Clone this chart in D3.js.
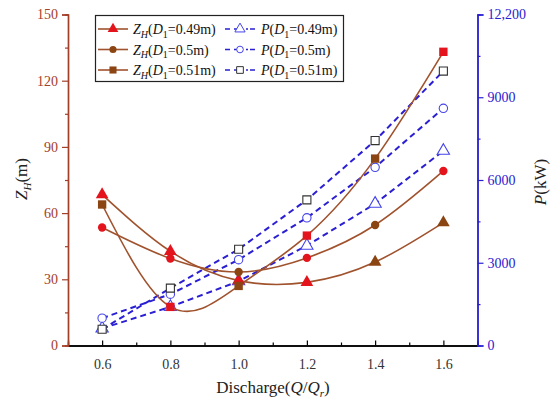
<!DOCTYPE html>
<html>
<head>
<meta charset="utf-8">
<script src="https://d3js.org/d3.v7.min.js"></script>
<style>
  body { margin: 0; background: #fff; }
  svg text { font-family: "Liberation Serif", "DejaVu Serif", "Times New Roman", serif !important; }
</style>
</head>
<body>
<div id="chart"></div>
<script>
// data
const discharge = [0.6, 0.8, 1.0, 1.2, 1.4, 1.6];
const zh049 = [68.4, 42.7, 29.4, 28.6, 37.8, 55.7];
const zh050 = [53.5, 39.4, 33.3, 39.7, 54.6, 79.1];
const zh051 = [63.9, 17.5, 27.0, 49.8, 84.7, 133.1];
const p049 = [620, 1400, 2330, 3620, 5140, 7060];
const p050 = [990, 1860, 3110, 4630, 6460, 8600];
const p051 = [590, 2080, 3490, 5280, 7430, 9950];
const diameters = ["0.49", "0.5", "0.51"];
const xTicks = [0.6, 0.8, 1.0, 1.2, 1.4, 1.6];
const leftTicks = [0, 30, 60, 90, 120, 150];
const rightTicks = [0, 3000, 6000, 9000, 12000];
const rightTickLabels = ["0", "3000", "6000", "9000", "12,200"];

// styles
const RED = "#e3141c", BROWN = "#8b4513";
const lineBrown = "#a0522d";
const blue = "#2a1fd2";
const leftColor = "#a3402a";
const rightColor = "#2a20d0";
const zMarkerColors = [
    [RED, RED, RED, RED, BROWN, BROWN],
    [RED, RED, BROWN, RED, BROWN, RED],
    [BROWN, RED, BROWN, RED, BROWN, RED]
];
const shapes = ["triangle", "circle", "square"];

const W = 550, H = 398;
const svg = d3.select("#chart").append("svg").attr("width", W).attr("height", H);

const x = d3.scaleLinear().domain([0.5, 1.7]).range([68, 477.5]);
const yL = d3.scaleLinear().domain([0, 150]).range([345.5, 14.5]);
const yR = d3.scaleLinear().domain([0, 12000]).range([345.5, 14.5]);

function symbolPath(shape, size) {
    const t = shape === "triangle" ? d3.symbolTriangle : shape === "circle" ? d3.symbolCircle : d3.symbolSquare;
    return d3.symbol().type(t).size(size)();
}

// X axis (ticks inward)
const xAxis = svg.append("g").attr("transform", `translate(0,${yL(0)})`);
xAxis.call(d3.axisBottom(x).tickValues(xTicks).tickSize(-5).tickPadding(14).tickFormat(d3.format(".1f")));
xAxis.append("g").call(d3.axisBottom(x).tickValues([0.7, 0.9, 1.1, 1.3, 1.5]).tickSize(-3).tickFormat(""));
xAxis.selectAll("path").attr("stroke", "#000").attr("stroke-width", 1.3);
xAxis.selectAll("line").attr("stroke", "#000").attr("stroke-width", 1.2);
xAxis.selectAll("text").attr("fill", "#333").attr("font-size", 14);

// left axis
const lAxis = svg.append("g").attr("transform", `translate(${x(0.5)},0)`);
lAxis.call(d3.axisLeft(yL).tickValues(leftTicks).tickSize(6).tickPadding(4));
lAxis.append("g").call(d3.axisLeft(yL).tickValues([15, 45, 75, 105, 135]).tickSize(3).tickFormat(""));
lAxis.selectAll("path").attr("stroke", leftColor).attr("stroke-width", 1.4);
lAxis.selectAll("line").attr("stroke", leftColor).attr("stroke-width", 1.2);
lAxis.selectAll("text").attr("fill", leftColor).attr("font-size", 14);

// right axis
const rAxis = svg.append("g").attr("transform", `translate(${x(1.7)},0)`);
rAxis.call(d3.axisRight(yR).tickValues(rightTicks).tickSize(6).tickPadding(4)
    .tickFormat((d, i) => rightTickLabels[i]));
rAxis.append("g").call(d3.axisRight(yR).tickValues([1500, 4500, 7500, 10500]).tickSize(3).tickFormat(""));
rAxis.selectAll("path").attr("stroke", rightColor).attr("stroke-width", 1.4);
rAxis.selectAll("line").attr("stroke", rightColor).attr("stroke-width", 1.2);
rAxis.selectAll("text").attr("fill", rightColor).attr("font-size", 14);
svg.selectAll(".domain").attr("fill", "none");

// rich text helper: parts = [[text, italic, sub]]
function richText(sel, parts, subSize) {
    let shifted = false;
    parts.forEach(([t, it, sub]) => {
        const ts = sel.append("tspan").text(t);
        if (it) ts.attr("font-style", "italic");
        if (sub && !shifted) { ts.attr("dy", 3.5).attr("font-size", subSize); shifted = true; }
        else if (sub) { ts.attr("font-size", subSize); }
        else if (shifted) { ts.attr("dy", -3.5); shifted = false; }
    });
}

// axis titles
richText(svg.append("text").attr("x", 273).attr("y", 393).attr("text-anchor", "middle")
    .attr("font-size", 17).attr("fill", "#222"),
    [["Discharge(", false, false], ["Q", true, false], ["/", false, false], ["Q", true, false], ["r", true, true], [")", false, false]], 11);

richText(svg.append("text").attr("transform", "translate(27,179) rotate(-90)").attr("text-anchor", "middle")
    .attr("font-size", 17).attr("fill", "#222"),
    [["Z", true, false], ["H", true, true], ["(m)", false, false]], 11);

richText(svg.append("text").attr("transform", "translate(546,182) rotate(-90)").attr("text-anchor", "middle")
    .attr("font-size", 17).attr("fill", "#222"),
    [["P", true, false], ["(kW)", false, false]], 11);

// P dashed lines (drawn first)
const pSeries = [p049, p050, p051];
const pLine = d3.line().x((d, i) => x(discharge[i])).y(d => yR(d));
pSeries.forEach((s, k) => {
    svg.append("path").attr("d", pLine(s)).attr("fill", "none")
        .attr("stroke", blue).attr("stroke-width", 2).attr("stroke-dasharray", "6,4");
});
pSeries.forEach((s, k) => {
    svg.selectAll(null).data(s).enter().append("path")
        .attr("transform", (d, i) => `translate(${x(discharge[i])},${yR(d)})`)
        .attr("d", symbolPath(shapes[k], k === 1 ? 55 : 65))
        .attr("fill", "#fff")
        .attr("stroke", k === 2 ? "#333" : "#4545e8")
        .attr("stroke-width", 1.1);
});

// Z_H curves
const zSeries = [zh049, zh050, zh051];
const zLine = d3.line().x((d, i) => x(discharge[i])).y(d => yL(d)).curve(d3.curveNatural);
zSeries.forEach(s => {
    svg.append("path").attr("d", zLine(s)).attr("fill", "none")
        .attr("stroke", lineBrown).attr("stroke-width", 1.6);
});
zSeries.forEach((s, k) => {
    svg.selectAll(null).data(s).enter().append("path")
        .attr("transform", (d, i) => `translate(${x(discharge[i])},${yL(d)})`)
        .attr("d", symbolPath(shapes[k], k === 1 ? 55 : 70))
        .attr("fill", (d, i) => zMarkerColors[k][i]);
});

// legend
const lg = svg.append("g");
lg.append("rect").attr("x", 95.5).attr("y", 15.5).attr("width", 248).attr("height", 66)
    .attr("fill", "#fff").attr("stroke", "#222").attr("stroke-width", 1.2);
const rowsY = [29, 49.5, 70];
const legendZColors = [RED, BROWN, BROWN];
diameters.forEach((dm, k) => {
    const yy = rowsY[k];
    lg.append("line").attr("x1", 98).attr("x2", 128).attr("y1", yy).attr("y2", yy)
        .attr("stroke", lineBrown).attr("stroke-width", 1.6);
    lg.append("path").attr("transform", `translate(113,${yy})`)
        .attr("d", symbolPath(shapes[k], k === 1 ? 40 : 50)).attr("fill", legendZColors[k]);
    richText(lg.append("text").attr("x", 133).attr("y", yy + 5).attr("font-size", 14).attr("fill", "#111"),
        [["Z", true, false], ["H", true, true], ["(", false, false], ["D", true, false], ["1", false, true], ["=" + dm + "m)", false, false]], 10);

    lg.append("line").attr("x1", 225).attr("x2", 258).attr("y1", yy).attr("y2", yy)
        .attr("stroke", blue).attr("stroke-width", 1.6).attr("stroke-dasharray", "5,4,5,7,2,2");
    lg.append("path").attr("transform", `translate(240,${yy})`)
        .attr("d", symbolPath(shapes[k], k === 1 ? 35 : 45))
        .attr("fill", "#fff").attr("stroke", k === 2 ? "#333" : "#4545e8").attr("stroke-width", 1);
    richText(lg.append("text").attr("x", 261).attr("y", yy + 5).attr("font-size", 14).attr("fill", "#111"),
        [["P", true, false], ["(", false, false], ["D", true, false], ["1", false, true], ["=" + dm + "m)", false, false]], 10);
});
</script>
</body>
</html>
